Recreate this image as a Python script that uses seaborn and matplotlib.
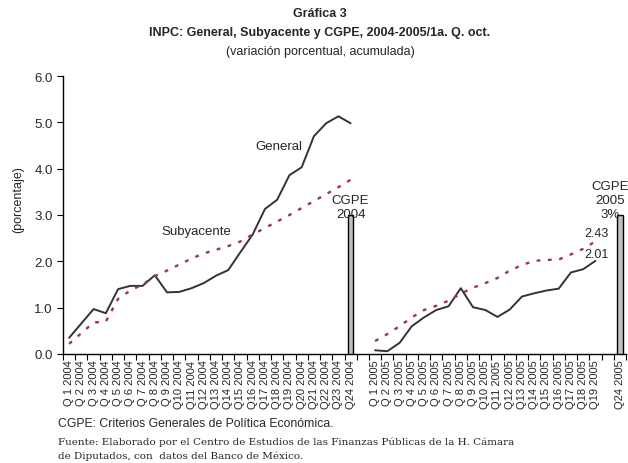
import numpy as np
import pandas as pd
import matplotlib
matplotlib.use("Agg")
import matplotlib.pyplot as plt
import seaborn as sns

# categorias del eje x (quincenas), con huecos vacios entre años
cats_2004 = ["Q%2d 2004" % i for i in range(1, 25)]
cats_2005 = ["Q%2d 2005" % i for i in range(1, 20)]
categorias = cats_2004 + [""] + cats_2005 + [""] + ["Q24 2005"]

# INPC general, variacion acumulada
general_2004 = [0.35, 0.66, 0.97, 0.88, 1.40, 1.47, 1.47, 1.70, 1.33, 1.34, 1.42, 1.53,
                1.69, 1.81, 2.20, 2.58, 3.13, 3.33, 3.86, 4.03, 4.70, 4.98, 5.13, 4.98]
general_2005 = [0.08, 0.06, 0.24, 0.60, 0.79, 0.95, 1.03, 1.42, 1.01, 0.95, 0.80, 0.96,
                1.24, 1.31, 1.37, 1.41, 1.76, 1.83, 2.01]

# INPC subyacente
sub_2004 = [0.22, 0.45, 0.68, 0.70, 1.19, 1.37, 1.50, 1.68, 1.80, 1.93, 2.06, 2.17,
            2.25, 2.33, 2.43, 2.58, 2.72, 2.86, 3.00, 3.15, 3.30, 3.45, 3.60, 3.76]
sub_2005 = [0.28, 0.43, 0.60, 0.79, 0.95, 1.04, 1.15, 1.30, 1.43, 1.53, 1.64, 1.80,
            1.92, 2.01, 2.03, 2.04, 2.15, 2.27, 2.43]

# meta CGPE
cgpe_cats = ["Q24 2004", "Q24 2005"]
cgpe_vals = [3.0, 3.0]

sns.set_style("ticks")
plt.rcParams["font.family"] = ["Liberation Sans", "DejaVu Sans"]

fig = plt.figure(figsize=(6.28, 4.64), dpi=100)
ax = fig.add_axes([63 / 628, 1 - 355 / 464, (626 - 63) / 628, (355 - 77) / 464])

pos = {c: i for i, c in enumerate(categorias) if c}

# barras CGPE
sns.barplot(x=[pos[c] for c in cgpe_cats], y=cgpe_vals, order=list(range(len(categorias))),
            width=0.45, color="#c0c0c0", edgecolor="black", linewidth=1.0,
            saturation=1, ax=ax, zorder=3)

# lineas
for cats, gen, sub in [(cats_2004, general_2004, sub_2004), (cats_2005, general_2005, sub_2005)]:
    xs = [pos[c] for c in cats]
    sns.lineplot(x=xs, y=gen, color="#333333", linewidth=1.4, ax=ax, zorder=2)
    sns.lineplot(x=xs, y=sub, color="#993366", linewidth=1.7, ax=ax, zorder=2,
                 linestyle=(0, (1.6, 3.2)))

ax.set_xlim(-0.5, len(categorias) - 0.5)
ax.set_ylim(0, 6)
ax.set_yticks(np.arange(0, 6.5, 1.0))
ax.set_yticklabels(["%.1f" % v for v in np.arange(0, 6.5, 1.0)], fontsize=9.5)
ax.set_xticks(range(len(categorias)))
ax.set_xticklabels(categorias, rotation=90, fontsize=8)
ax.set_xticks(np.arange(-0.5, len(categorias), 1.0), minor=True)
ax.tick_params(axis="x", which="major", length=0, pad=4)
ax.tick_params(axis="x", which="minor", length=4, width=0.8, color="black", direction="out")
ax.tick_params(axis="y", length=4, width=0.8, color="black", direction="out")
ax.set_xlabel("")
ax.set_ylabel("")
for s in ["top", "right"]:
    ax.spines[s].set_visible(False)
for s in ["left", "bottom"]:
    ax.spines[s].set_color("black")
    ax.spines[s].set_linewidth(1.0)

# textos dentro del grafico
ax.text(17.1, 4.5, "General", ha="center", va="center", fontsize=9.5)
ax.text(10.4, 2.66, "Subyacente", ha="center", va="center", fontsize=9.5)
ax.text(pos["Q24 2004"], 2.9, "CGPE\n2004", ha="center", va="bottom", fontsize=9.5,
        linespacing=1.2)
ax.text(44.2, 2.9, "CGPE\n2005\n3%", ha="center", va="bottom", fontsize=9.5,
        linespacing=1.2)
ax.text(43.1, 2.61, "%.2f" % sub_2005[-1], ha="center", va="center", fontsize=9)
ax.text(43.1, 2.16, "%.2f" % general_2005[-1], ha="center", va="center", fontsize=9)

# titulos
fig.text(320 / 628, 1 - 14 / 464, "Gráfica 3", ha="center", va="center",
         fontsize=9, fontweight="bold")
fig.text(320 / 628, 1 - 33 / 464, "INPC: General, Subyacente y CGPE, 2004-2005/1a. Q. oct.",
         ha="center", va="center", fontsize=9, fontweight="bold")
fig.text(320 / 628, 1 - 52 / 464, "(variación porcentual, acumulada)",
         ha="center", va="center", fontsize=9)
fig.text(18 / 628, 1 - 200 / 464, "(porcentaje)", rotation=90, ha="center", va="center",
         fontsize=9)

# notas al pie
fig.text(58 / 628, 1 - 424 / 464, "CGPE: Criterios Generales de Política Económica.",
         ha="left", va="center", fontsize=8.8)
fig.text(58 / 628, 1 - 442 / 464,
         "Fuente: Elaborado por el Centro de Estudios de las Finanzas Públicas de la H. Cámara",
         ha="left", va="center", fontsize=7.5, family="DejaVu Serif")
fig.text(58 / 628, 1 - 456 / 464, "de Diputados, con  datos del Banco de México.",
         ha="left", va="center", fontsize=7.5, family="DejaVu Serif")

fig.savefig("out.png", dpi=100)
